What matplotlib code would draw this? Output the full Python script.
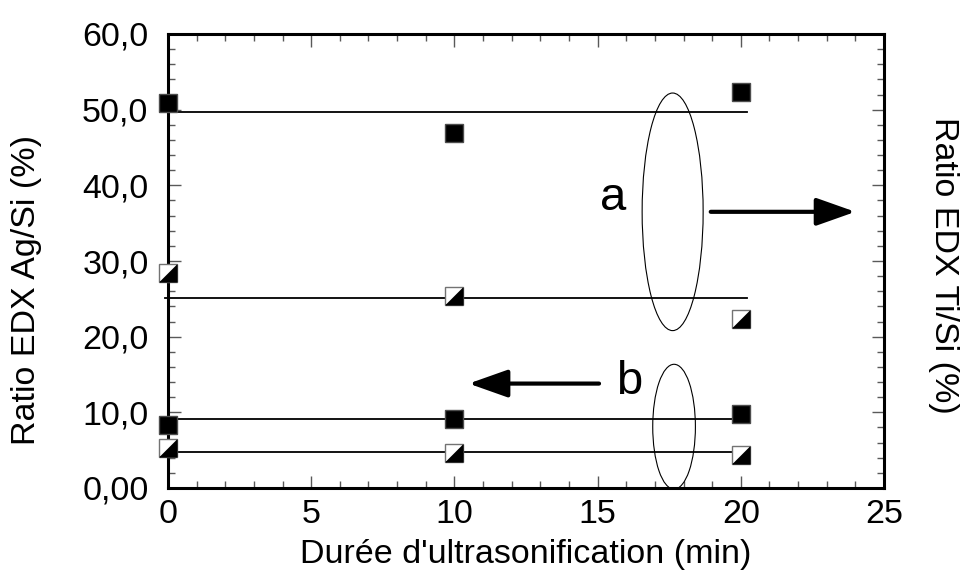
import numpy as np
import matplotlib
matplotlib.use("Agg")
import matplotlib.pyplot as plt
from matplotlib.patches import Ellipse
from matplotlib.ticker import MultipleLocator, FixedLocator, FixedFormatter

plt.rcParams['font.family'] = ['Liberation Sans', 'DejaVu Sans']

# === Data ===
x = [0, 10, 20]
ti_full = [50.9, 46.9, 52.4]      # filled squares, group a
ti_half = [28.4, 25.4, 22.3]      # half squares, group a
ag_full = [8.3, 9.1, 9.8]         # filled squares, group b
ag_half = [5.3, 4.6, 4.4]         # half squares, group b
fit_levels = [49.7, 25.1, 9.1, 4.8]
fit_x = [-0.1, 20.2]

yticks = [0, 10, 20, 30, 40, 50, 60]
ytick_labels = ['0,00', '10,0', '20,0', '30,0', '40,0', '50,0', '60,0']
xticks = [0, 5, 10, 15, 20, 25]

FS = 24.5

fig = plt.figure(figsize=(9.68, 5.76), dpi=100)
ax = fig.add_axes([168/968, 88/576, 716/968, 454/576])

# fitted horizontal lines
for lev in fit_levels:
    ax.plot(fit_x, [lev, lev], color='black', lw=1.3, zorder=2, clip_on=False)

# lower-right black triangle for half-filled squares
tri = [(-1, -1), (1, -1), (1, 1), (-1, -1)]

def half_squares(xs, ys):
    ax.plot(xs, ys, ls='none', marker='s', ms=12.5, mfc='white', mec='0.45', mew=1.0, zorder=3, clip_on=False)
    ax.plot(xs, ys, ls='none', marker=tri, ms=12.5, mfc='black', mec='black', mew=0.5, zorder=4, clip_on=False)

ax.plot(x, ti_full, ls='none', marker='s', ms=12.5, mfc='black', mec='0.3', mew=1.0, zorder=3, clip_on=False)
ax.plot(x, ag_full, ls='none', marker='s', ms=12.5, mfc='black', mec='0.3', mew=1.0, zorder=3, clip_on=False)
half_squares(x, ti_half)
half_squares(x, ag_half)

# ellipses
ax.add_patch(Ellipse((17.62, 36.5), 2.13, 31.4, fill=False, ec='black', lw=0.8, zorder=5, clip_on=False))
ax.add_patch(Ellipse((17.67, 8.1), 1.49, 16.5, fill=False, ec='black', lw=0.8, zorder=5, clip_on=False))

# arrows
arrow_style = dict(arrowstyle='-|>,head_length=2.4,head_width=0.85', color='black', lw=3.0, shrinkA=0, shrinkB=0)
ax.annotate('', xy=(24.0, 36.5), xytext=(18.95, 36.5), arrowprops=arrow_style)
ax.annotate('', xy=(10.5, 13.8), xytext=(15.05, 13.8), arrowprops=arrow_style)

ax.text(15.55, 38.3, 'a', fontsize=34, ha='center', va='center')
ax.text(16.1, 14.0, 'b', fontsize=34, ha='center', va='center')

ax.set_xlim(0, 25)
ax.set_ylim(0, 60)
ax.xaxis.set_major_locator(FixedLocator(xticks))
ax.xaxis.set_minor_locator(MultipleLocator(1))
ax.yaxis.set_major_locator(FixedLocator(yticks))
ax.yaxis.set_major_formatter(FixedFormatter(ytick_labels))
ax.yaxis.set_minor_locator(MultipleLocator(2))

ax.tick_params(which='both', direction='in', top=True, right=True, color='0.35', width=1.0)
ax.tick_params(which='major', length=9, labelsize=FS)
ax.tick_params(which='minor', length=5)
ax.tick_params(axis='y', pad=14)
ax.tick_params(axis='x', pad=8)

for sp in ax.spines.values():
    sp.set_linewidth(2.2)

fig.text(0.5 * (168 + 884) / 968, 1 - 555/576, "Durée d'ultrasonification (min)", fontsize=FS, ha='center', va='center')
fig.text(27/968, 1 - 290/576, "Ratio EDX Ag/Si (%)", fontsize=FS, rotation=90, ha='center', va='center')
fig.text(943/968, 1 - 265/576, "Ratio EDX Ti/Si (%)", fontsize=FS, rotation=-90, ha='center', va='center')

fig.savefig('out.png', dpi=100)
